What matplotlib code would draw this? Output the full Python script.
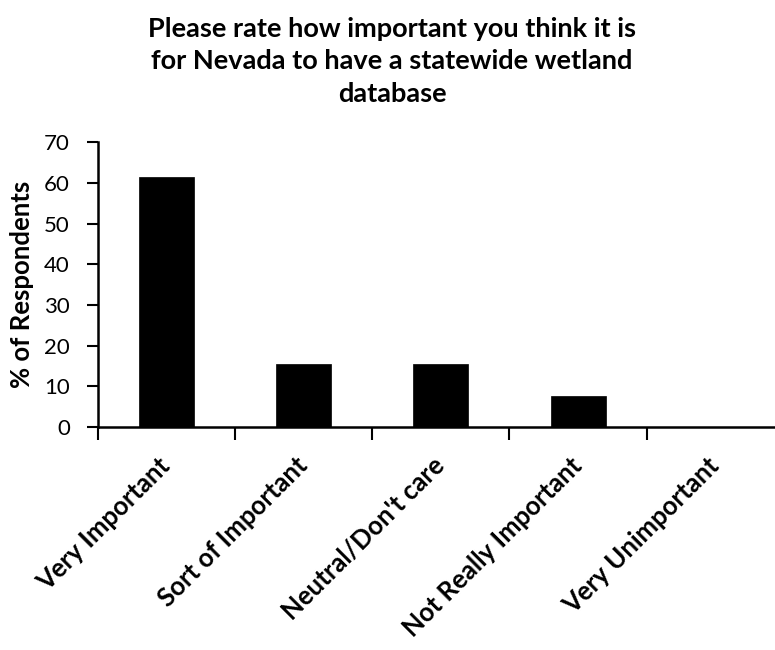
import matplotlib
matplotlib.use("Agg")
import matplotlib.pyplot as plt
import numpy as np

categories = ["Very Important", "Sort of Important", "Neutral/Don't care",
              "Not Really Important", "Very Unimportant"]
percent = [61.5, 15.4, 15.4, 7.7, 0.0]
y_ticks = [0, 10, 20, 30, 40, 50, 60, 70]

plt.rcParams['font.family'] = ['Lato', 'DejaVu Sans']

fig = plt.figure(figsize=(7.75, 6.5), dpi=100)
ax = fig.add_axes([0.1261, 0.3431, 0.8855, 0.438])

x = np.arange(len(categories))
ax.bar(x, percent, width=0.4, color='black', edgecolor='black', linewidth=0.5)

ax.set_xlim(-0.5, len(categories) - 0.5)
ax.set_ylim(0, 70)
ax.set_yticks(y_ticks)
ax.set_yticklabels([str(v) for v in y_ticks], fontsize=16)

# category boundaries carry the x ticks; labels sit at bar centers
ax.set_xticks(np.arange(len(categories) + 1) - 0.5)
ax.set_xticklabels([])
ax.set_xticks(x, minor=True)
ax.set_xticklabels(categories, minor=True, rotation=45, ha='right', va='center',
                   rotation_mode='anchor', fontsize=18.5, fontweight='bold')
ax.tick_params(axis='x', which='minor', length=0, pad=25)
ax.tick_params(axis='x', which='major', length=9, width=1.5, direction='out')
ax.tick_params(axis='y', length=8, width=1.5, direction='out', pad=12)

for side in ['top', 'right']:
    ax.spines[side].set_visible(False)
for side in ['left', 'bottom']:
    ax.spines[side].set_linewidth(1.8)

ax.set_ylabel('% of Respondents', fontsize=18.5, fontweight='bold', labelpad=7)

fig.text(0.506, 0.906,
         'Please rate how important you think it is\n'
         'for Nevada to have a statewide wetland\n'
         'database',
         ha='center', va='center', fontsize=19.5, fontweight='bold', linespacing=1.42)

fig.savefig('out.png', dpi=100)
